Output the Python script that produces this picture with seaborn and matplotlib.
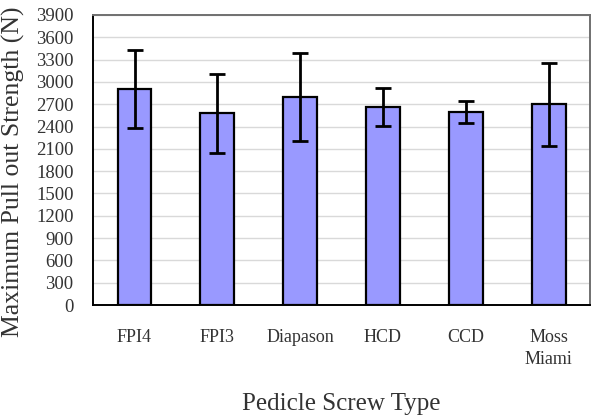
import numpy as np
import pandas as pd
import matplotlib
matplotlib.use('Agg')
import matplotlib.pyplot as plt
import seaborn as sns

# data
screw_types = ['FPI4', 'FPI3', 'Diapason', 'HCD', 'CCD', 'Moss\nMiami']
mean_strength = [2905, 2575, 2795, 2663, 2600, 2700]
sd_strength = [520, 530, 590, 252, 148, 560]
y_ticks = list(range(0, 3901, 300))

sns.set_style('white')
plt.rcParams['font.family'] = ['Liberation Serif', 'DejaVu Serif']

df = pd.DataFrame({'type': screw_types, 'strength': mean_strength})

fig = plt.figure(figsize=(5.93, 4.15), dpi=100)
ax = fig.add_axes([0.157, 0.265, 0.838, 0.699])

ax.yaxis.grid(True, color='#d9d9d9', linewidth=1.0, zorder=0)
ax.set_axisbelow(True)

sns.barplot(data=df, x='type', y='strength', color='#9999ff', saturation=1,
            width=0.41, edgecolor='black', linewidth=1.6, errorbar=None,
            ax=ax, zorder=2)
ax.errorbar(np.arange(len(screw_types)), mean_strength, yerr=sd_strength,
            fmt='none', ecolor='black', elinewidth=2.0, capsize=6,
            capthick=2.0, zorder=3)

ax.set_xlim(-0.5, len(screw_types) - 0.5)
ax.set_ylim(0, 3900)
ax.set_yticks(y_ticks)
ax.set_yticklabels([str(v) for v in y_ticks], fontsize=13.5, color='#333333')

ax.set_xticks(np.arange(len(screw_types)))
ax.set_xticklabels(screw_types, fontsize=13, color='#333333',
                   va='top', linespacing=1.4)
ax.tick_params(axis='x', which='major', length=0, pad=17)
ax.set_xticks(np.arange(len(screw_types) + 1) - 0.5, minor=True)
ax.tick_params(axis='x', which='minor', direction='in', length=5,
               width=1.2, color='#333333')
ax.tick_params(axis='y', direction='in', length=5, width=1.2,
               color='#333333', pad=14)

for side in ['left', 'bottom']:
    ax.spines[side].set_color('black')
    ax.spines[side].set_linewidth(1.4)
for side in ['top', 'right']:
    ax.spines[side].set_color('#707070')
    ax.spines[side].set_linewidth(1.4)

ax.set_xlabel('Pedicle Screw Type', fontsize=18, color='#333333')
ax.xaxis.set_label_coords(0.5, -0.302)
ax.set_ylabel('Maximum Pull out Strength (N)', fontsize=18.5, color='#333333')
ax.yaxis.set_label_coords(-0.138, 0.46)

plt.savefig('out.png', dpi=100)
